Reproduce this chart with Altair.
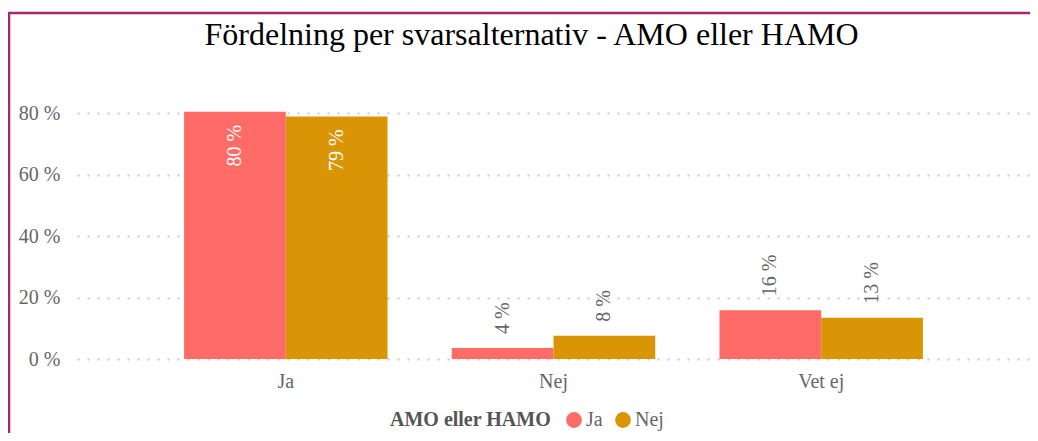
import altair as alt
import pandas as pd

categories = ["Ja", "Nej", "Vet ej"]
series = ["Ja", "Nej"]
values_ja = [80.5, 3.6, 15.9]
values_nej = [79.0, 7.6, 13.4]
labels_ja = ["80 %", "4 %", "16 %"]
labels_nej = ["79 %", "8 %", "13 %"]
y_ticks = [0, 20, 40, 60, 80]
colors = ["#FF6B66", "#D99506"]

rows = []
for c, v, l in zip(categories, values_ja, labels_ja):
    rows.append({"Svar": c, "Grupp": "Ja", "Andel": v, "Etikett": l})
for c, v, l in zip(categories, values_nej, labels_nej):
    rows.append({"Svar": c, "Grupp": "Nej", "Andel": v, "Etikett": l})
df = pd.DataFrame(rows)

FONT = "Liberation Serif"
W, H = 953, 261
PAD_L, PAD_T = 69, 90
CANVAS_W, CANVAS_H = 1022, 425

x = alt.X("Svar:N", sort=categories, title=None,
          scale=alt.Scale(paddingInner=0.24, paddingOuter=0.4),
          axis=alt.Axis(labelAngle=0, labelFontSize=20, labelColor="#666666",
                        labelFont=FONT, labelPadding=12, domain=False, ticks=False))
xo = alt.XOffset("Grupp:N", sort=series, scale=alt.Scale(paddingInner=0, paddingOuter=0))
y = alt.Y("Andel:Q", title=None, scale=alt.Scale(domain=[0, 85], nice=False),
          axis=alt.Axis(values=y_ticks, labelExpr="datum.value + ' %'", grid=True,
                        gridDash=[2, 8], gridColor="#c8c8c8", gridWidth=2,
                        labelFontSize=20, labelColor="#666666", labelFont=FONT,
                        labelPadding=17, domain=False, ticks=False))

base = alt.Chart(df)
bars = base.mark_bar().encode(
    x=x, xOffset=xo, y=y,
    color=alt.Color("Grupp:N", sort=series,
                    scale=alt.Scale(domain=series, range=colors),
                    legend=alt.Legend(title="AMO eller HAMO", orient="none",
                                      direction="horizontal", titleOrient="left",
                                      legendX=313, legendY=312,
                                      titleFont=FONT, titleFontSize=20, titleFontWeight="bold",
                                      titleColor="#555555", labelFont=FONT, labelFontSize=20,
                                      labelColor="#666666", symbolType="circle",
                                      symbolSize=250, symbolStrokeWidth=0, symbolOpacity=1,
                                      columnPadding=10, labelOffset=2, titlePadding=12)),
)
inside = base.transform_filter("datum.Andel > 50").mark_text(
    angle=270, align="right", baseline="middle", dx=-13, font=FONT, fontSize=20,
    color="white").encode(x=x, xOffset=xo, y=y, text="Etikett:N")
outside = base.transform_filter("datum.Andel <= 50").mark_text(
    angle=270, align="left", baseline="middle", dx=14, font=FONT, fontSize=20,
    color="#666666").encode(x=x, xOffset=xo, y=y, text="Etikett:N")

bdf = pd.DataFrame({"k": [0]})
border_top = alt.Chart(bdf).mark_rule(color="#A3286F", strokeWidth=2.5).encode(
    x=alt.value(-68), x2=alt.value(CANVAS_W - PAD_L), y=alt.value(-85))
border_left = alt.Chart(bdf).mark_rule(color="#A3286F", strokeWidth=2.5).encode(
    x=alt.value(-68), y=alt.value(-86), y2=alt.value(CANVAS_H - PAD_T))

chart = alt.layer(border_top, border_left, bars, inside, outside).properties(
    width=W, height=H,
    title=alt.TitleParams("Fördelning per svarsalternativ - AMO eller HAMO",
                          font=FONT, fontSize=32, fontWeight="normal", color="black",
                          anchor="middle", dx=-22, offset=-41),
    padding={"left": PAD_L, "top": PAD_T, "right": CANVAS_W - PAD_L - W,
             "bottom": CANVAS_H - PAD_T - H},
    autosize=alt.AutoSizeParams(type="none"),
).configure(background="white").configure_view(stroke=None)

chart.save("out.html", embed_options={"renderer": "svg", "actions": False})
